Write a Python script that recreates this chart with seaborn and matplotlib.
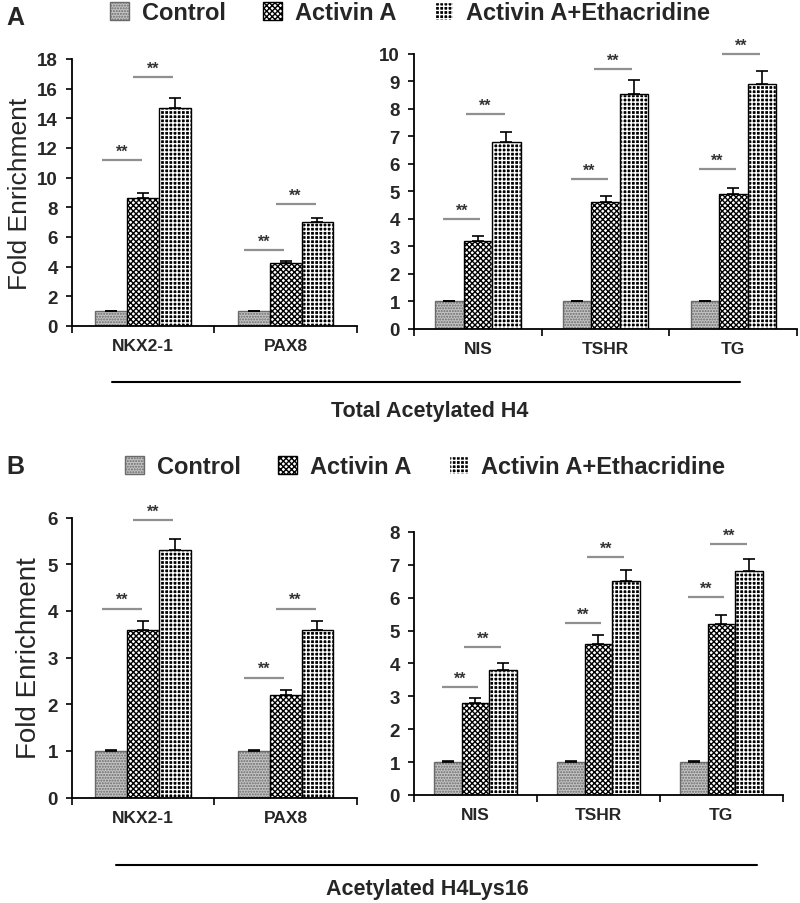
import numpy as np
import pandas as pd
import seaborn as sns
import matplotlib.pyplot as plt
from matplotlib.patches import Patch, Rectangle
from matplotlib.lines import Line2D

sns.set_theme(style='white')
plt.rcParams['font.family'] = ['Liberation Sans', 'DejaVu Sans']
plt.rcParams['hatch.linewidth'] = 1.0

conditions = ['Control', 'Activin A', 'Activin A+Ethacridine']
genes_left = ['NKX2-1', 'PAX8']
genes_right = ['NIS', 'TSHR', 'TG']

# panel A - total acetylated H4
h4_left_control = [1.0, 1.0]
h4_left_activin = [8.6, 4.25]
h4_left_etha = [14.7, 7.0]
h4_left_err_control = [0.03, 0.03]
h4_left_err_activin = [0.35, 0.15]
h4_left_err_etha = [0.7, 0.27]
h4_left_sig1 = [11.2, 5.1]
h4_left_sig2 = [16.8, 8.2]

h4_right_control = [1.0, 1.0, 1.0]
h4_right_activin = [3.2, 4.6, 4.9]
h4_right_etha = [6.8, 8.55, 8.9]
h4_right_err_control = [0.02, 0.02, 0.02]
h4_right_err_activin = [0.17, 0.22, 0.23]
h4_right_err_etha = [0.36, 0.49, 0.48]
h4_right_sig1 = [4.0, 5.45, 5.8]
h4_right_sig2 = [7.8, 9.45, 10.0]

# panel B - acetylated H4Lys16
k16_left_control = [1.0, 1.0]
k16_left_activin = [3.6, 2.2]
k16_left_etha = [5.3, 3.6]
k16_left_err_control = [0.02, 0.02]
k16_left_err_activin = [0.18, 0.1]
k16_left_err_etha = [0.25, 0.18]
k16_left_sig1 = [4.05, 2.57]
k16_left_sig2 = [5.95, 4.05]

k16_right_control = [1.0, 1.0, 1.0]
k16_right_activin = [2.8, 4.6, 5.2]
k16_right_etha = [3.8, 6.5, 6.8]
k16_right_err_control = [0.02, 0.02, 0.02]
k16_right_err_activin = [0.15, 0.25, 0.28]
k16_right_err_etha = [0.2, 0.35, 0.38]
k16_right_sig1 = [3.27, 5.22, 6.01]
k16_right_sig2 = [4.49, 7.23, 7.64]

# control: gray texture, activin: fine checks, etha: black dots in a white grid
hatches = ['......', 'xxxxxx', '++++']
faces = ['#c4c4c4', 'white', 'black']
edges = ['#6a6a6a', 'black', 'white']


def panel(ax, genes, means, errs, sig1, sig2, ymax, yticks, seg1, seg2):
    df = pd.DataFrame({
        'gene': genes * 3,
        'cond': np.repeat(conditions, len(genes)),
        'value': np.concatenate(means),
    })
    sns.barplot(data=df, x='gene', y='value', hue='cond', hue_order=conditions,
                order=genes, palette=faces, width=0.67, gap=0, errorbar=None,
                legend=False, ax=ax)
    bar_groups = list(ax.containers)
    for i, cont in enumerate(bar_groups):
        for j, p in enumerate(cont.patches):
            p.set_facecolor(faces[i])
            p.set_hatch(hatches[i])
            p.set_edgecolor(edges[i])
            p.set_linewidth(1.0)
            if i == 2:
                # black outline over the white hatch
                ax.add_patch(Rectangle(p.get_xy(), p.get_width(), p.get_height(),
                                       fill=False, edgecolor='black', lw=1.0))
            cx = p.get_x() + p.get_width() / 2
            ax.errorbar(cx, means[i][j], yerr=[[0], [errs[i][j]]], fmt='none',
                        ecolor='black', elinewidth=1.2, capsize=4, capthick=1.2)
    for j in range(len(genes)):
        for (a, b), yv in ((seg1, sig1[j]), (seg2, sig2[j])):
            ax.plot([j + a, j + b], [yv, yv], color='#909090', lw=1.6,
                    clip_on=False, solid_capstyle='butt')
            ax.annotate('**', ((j + (a + b) / 2), yv), xytext=(0, 1),
                        textcoords='offset points', ha='center', va='bottom',
                        fontsize=11.5, fontweight='bold', color='#333333',
                        annotation_clip=False)
    ax.set_xlim(-0.5, len(genes) - 0.5)
    ax.set_ylim(0, ymax)
    ax.set_yticks(yticks)
    ax.set_xticks(range(len(genes)))
    ax.set_xticklabels(genes, fontsize=12.5, fontweight='bold')
    ax.set_xticks(np.arange(-0.5, len(genes)), minor=True)
    ax.tick_params(axis='x', which='major', length=0, pad=9)
    ax.tick_params(axis='x', which='minor', length=5, width=1.2, direction='out',
                   bottom=True, color='black')
    ax.tick_params(axis='y', length=4, width=1.2, direction='out', left=True,
                   labelsize=13.5, pad=6, color='black')
    for t in ax.get_yticklabels():
        t.set_fontweight('bold')
    sns.despine(ax=ax)
    ax.spines['left'].set_linewidth(1.3)
    ax.spines['bottom'].set_linewidth(1.3)
    ax.spines['left'].set_color('black')
    ax.spines['bottom'].set_color('black')
    ax.set_xlabel('')
    ax.set_ylabel('')


fig = plt.figure(figsize=(8, 9.04), dpi=100)

axA1 = fig.add_axes([0.09, 0.6383, 0.356, 0.2954])
axA2 = fig.add_axes([0.5175, 0.635, 0.479, 0.3042])
axB1 = fig.add_axes([0.09, 0.1167, 0.356, 0.3097])
axB2 = fig.add_axes([0.5175, 0.1195, 0.461, 0.291])

segL = ((-0.29, -0.01), (-0.07, 0.21))
segR = ((-0.27, 0.02), (-0.09, 0.21))

panel(axA1, genes_left, [h4_left_control, h4_left_activin, h4_left_etha],
      [h4_left_err_control, h4_left_err_activin, h4_left_err_etha],
      h4_left_sig1, h4_left_sig2, 18, range(0, 19, 2), *segL)
panel(axA2, genes_right, [h4_right_control, h4_right_activin, h4_right_etha],
      [h4_right_err_control, h4_right_err_activin, h4_right_err_etha],
      h4_right_sig1, h4_right_sig2, 10, range(0, 11), *segR)
panel(axB1, genes_left, [k16_left_control, k16_left_activin, k16_left_etha],
      [k16_left_err_control, k16_left_err_activin, k16_left_err_etha],
      k16_left_sig1, k16_left_sig2, 6, range(0, 7), *segL)
panel(axB2, genes_right, [k16_right_control, k16_right_activin, k16_right_etha],
      [k16_right_err_control, k16_right_err_activin, k16_right_err_etha],
      k16_right_sig1, k16_right_sig2, 8, range(0, 9), *segR)

axA1.set_ylabel('Fold Enrichment', fontsize=19, labelpad=4)
axB1.set_ylabel('Fold Enrichment', fontsize=20, labelpad=4)

H = 904.0
fig.text(0.008, 1 - 18 / H, 'A', fontsize=18, fontweight='bold', va='center')
fig.text(0.008, 1 - 467 / H, 'B', fontsize=18, fontweight='bold', va='center')

handles = [Patch(facecolor=faces[i], edgecolor=edges[i], hatch=hatches[i],
                 label=conditions[i]) for i in range(3)]
for yc, xc in ((14, 410), (468, 425)):
    fig.legend(handles=handles, loc='center', bbox_to_anchor=(xc / 800, 1 - yc / H),
               ncol=3, frameon=False, prop={'size': 17, 'weight': 'bold'},
               handlelength=0.8, handleheight=0.8, handletextpad=0.55,
               columnspacing=1.6, borderaxespad=0)

fig.add_artist(Line2D([112 / 800, 740 / 800], [1 - 383 / H, 1 - 383 / H],
                      color='black', lw=1.5))
fig.text(430 / 800, 1 - 412 / H, 'Total Acetylated H4', fontsize=15.5,
         fontweight='bold', ha='center', va='center')
fig.add_artist(Line2D([116 / 800, 757 / 800], [1 - 866 / H, 1 - 866 / H],
                      color='black', lw=1.5))
fig.text(427 / 800, 1 - 890 / H, 'Acetylated H4Lys16', fontsize=15.5,
         fontweight='bold', ha='center', va='center')

fig.savefig('out.png', dpi=100)
